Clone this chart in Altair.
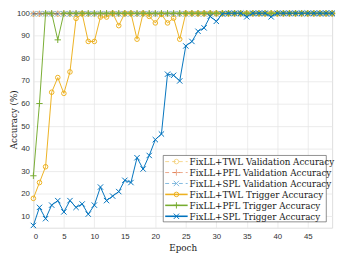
import altair as alt
import pandas as pd

epochs = list(range(50))

twl_trigger = [18, 25, 32, 65, 71.5, 64.5, 74, 97.7, 99.8, 87.5,
               87.5, 98.3, 98.3, 100, 94.5, 100, 100, 88.5, 100, 98.6,
               95.7, 99.5, 95.7, 97.8, 88.5, 100, 100, 100, 100, 100,
               100, 100, 100, 100, 100, 100, 100, 100, 100, 100,
               100, 100, 100, 100, 100, 100, 100, 100, 100, 100]
pfl_trigger = [28, 60, 100, 100, 88.2, 100, 100, 100, 100, 100,
               100, 100, 100, 100, 100, 100, 100, 100, 100, 100,
               100, 100, 100, 100, 100, 100, 100, 100, 100, 100,
               100, 100, 100, 100, 100, 100, 100, 100, 100, 100,
               100, 100, 100, 100, 100, 100, 100, 100, 100, 100]
spl_trigger = [6, 14, 9, 15, 17, 12, 17, 14, 15.5, 11,
               15, 23, 17, 19, 21, 26, 25, 36, 31, 37,
               44, 46.5, 73, 72.5, 70, 85.5, 87.5, 92, 93.5, 98.6,
               96.4, 99.7, 100, 100, 100, 98.4, 100, 100, 100, 98.4,
               100, 100, 100, 100, 100, 100, 100, 100, 100, 100]
twl_val = [99.6, 99.6, 99.6, 99.6, 99.6, 99.6, 99.6, 99.6, 99.6, 99.6,
           99.6, 99.6, 99.6, 99.6, 99.6, 99.6, 99.6, 99.6, 99.6, 99.6,
           99.6, 99.6, 99.6, 99.6, 99.6, 99.6, 99.6, 99.6, 99.6, 99.6,
           99.6, 99.6, 99.6, 99.6, 99.6, 99.6, 99.6, 99.6, 99.6, 99.6,
           99.6, 99.6, 99.6, 99.6, 99.6, 99.6, 99.6, 99.6, 99.6, 99.6]
pfl_val = [99.8, 99.8, 99.8, 99.8, 99.8, 99.8, 99.8, 99.8, 99.8, 99.8,
           99.8, 99.8, 99.8, 99.8, 99.8, 99.8, 99.8, 99.8, 99.8, 99.8,
           99.8, 99.8, 99.8, 99.8, 99.8, 99.8, 99.8, 99.8, 99.8, 99.8,
           99.8, 99.8, 99.8, 99.8, 99.8, 99.8, 99.8, 99.8, 99.8, 99.8,
           99.8, 99.8, 99.8, 99.8, 99.8, 99.8, 99.8, 99.8, 99.8, 99.8]
spl_val = [99.7, 99.7, 99.7, 99.7, 99.7, 99.7, 99.7, 99.7, 99.7, 99.7,
           99.7, 99.7, 99.7, 99.7, 99.7, 99.7, 99.7, 99.7, 99.7, 99.7,
           99.7, 99.7, 99.7, 99.7, 99.7, 99.7, 99.7, 99.7, 99.7, 99.7,
           99.7, 99.7, 99.7, 99.7, 99.7, 99.7, 99.7, 99.7, 99.7, 99.7,
           99.7, 99.7, 99.7, 99.7, 99.7, 99.7, 99.7, 99.7, 99.7, 99.7]

labels = ["FixLL+TWL Validation Accuracy",
          "FixLL+PFL Validation Accuracy",
          "FixLL+SPL Validation Accuracy",
          "FixLL+TWL Trigger Accuracy",
          "FixLL+PFL Trigger Accuracy",
          "FixLL+SPL Trigger Accuracy"]

PLUS = "M-1,0L1,0M0,-1L0,1"
XSHAPE = "M-1,-1L1,1M-1,1L1,-1"

styles = [
    dict(values=twl_val, color="#EDB120", opacity=0.5, dash=[4, 3], shape="circle", size=22),
    dict(values=pfl_val, color="#D95319", opacity=0.5, dash=[4, 3], shape=PLUS, size=42),
    dict(values=spl_val, color="#0072BD", opacity=0.5, dash=[4, 3], shape=XSHAPE, size=30),
    dict(values=twl_trigger, color="#EDB120", opacity=1.0, dash=None, shape="circle", size=22),
    dict(values=pfl_trigger, color="#77AC30", opacity=1.0, dash=None, shape=PLUS, size=42),
    dict(values=spl_trigger, color="#0072BD", opacity=1.0, dash=None, shape=XSHAPE, size=30),
]

W, H = 306, 222
SERIF = "DejaVu Serif"

xscale = alt.Scale(domain=[0, 49], nice=False, zero=False)
yscale = alt.Scale(domain=[5, 101], nice=False, zero=False)
common = dict(grid=True, ticks=False, domain=False,
              labelFont="Liberation Sans", labelFontSize=8, labelColor="#333333",
              titleFont=SERIF, titleFontSize=9, titleFontWeight="normal", titleColor="#1a1a1a",
              gridColor="#e6e6e6", gridWidth=0.8)
xaxis = alt.Axis(values=list(range(0, 50, 5)), title="Epoch", labelPadding=5, titlePadding=3, **common)
yaxis = alt.Axis(values=list(range(10, 101, 10)), title="Accuracy (%)", labelPadding=4,
                 titleX=-20.5, titleY=H / 2, titleAngle=270, titleAlign="center",
                 titleBaseline="middle", **common)

layers = []
for i, st in enumerate(styles):
    df = pd.DataFrame({"epoch": epochs, "acc": st["values"]})
    base = alt.Chart(df)
    lkw = dict(color=st["color"], opacity=st["opacity"], strokeWidth=1.0)
    if st["dash"]:
        lkw["strokeDash"] = st["dash"]
    enc = dict(x=alt.X("epoch:Q", scale=xscale, axis=xaxis),
               y=alt.Y("acc:Q", scale=yscale, axis=yaxis))
    line = base.mark_line(**lkw).encode(**enc)
    pt = base.mark_point(shape=st["shape"], size=st["size"], filled=False, color=st["color"],
                         opacity=st["opacity"], strokeWidth=1.0).encode(**enc)
    layers += [line, pt]

# legend (drawn in plot-area pixel space)
one = pd.DataFrame({"a": [0]})
LX0, LX1 = 133, 300
LY0, LY1 = 148, 216
layers.append(alt.Chart(one).mark_rect(fill="white", stroke="#444444", strokeWidth=0.6).encode(
    x=alt.value(LX0), x2=alt.value(LX1), y=alt.value(LY0), y2=alt.value(LY1)))
for i, (lab, st) in enumerate(zip(labels, styles)):
    yy = 154.3 + i * 11.2
    rkw = dict(color=st["color"], opacity=st["opacity"], strokeWidth=1.0 if st["dash"] else 1.6)
    if st["dash"]:
        rkw["strokeDash"] = [4, 3]
    layers.append(alt.Chart(one).mark_rule(**rkw).encode(
        x=alt.value(135), x2=alt.value(158), y=alt.value(yy)))
    layers.append(alt.Chart(one).mark_point(shape=st["shape"], size=st["size"], filled=False,
                                            color=st["color"], opacity=st["opacity"], strokeWidth=1.0).encode(
        x=alt.value(146.5), y=alt.value(yy)))
    layers.append(alt.Chart(one).mark_text(align="left", baseline="middle", font=SERIF,
                                           fontSize=9, color="#1a1a1a").encode(
        x=alt.value(160), y=alt.value(yy + 0.5), text=alt.value(lab)))

chart = alt.layer(*layers).properties(
    width=W, height=H,
    autosize=alt.AutoSizeParams(type="none"),
    padding={"left": 26, "top": 0, "right": 6, "bottom": 28},
).configure_view(stroke="#444444", strokeWidth=1).configure(background="white")

chart.save("out.html", embed_options={"renderer": "svg", "actions": False})
